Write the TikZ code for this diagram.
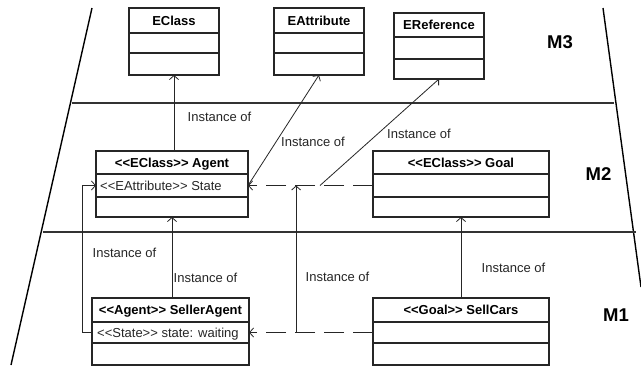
\documentclass[tikz,border=0pt]{standalone}
\usepackage{fontspec}
% plain family without TeX ligatures, so that << and >> stay as typed
\newfontfamily\umlfont{Liberation Sans}
\usetikzlibrary{arrows.meta,calc}

\tikzset{
  classbox/.style={draw=black!85, line width=1.1pt, inner sep=0pt, outer sep=0pt},
  compline/.style={draw=black!85, line width=1.1pt},
  classtitle/.style={font=\umlfont\bfseries\fontsize{13}{15}\selectfont, inner sep=0pt,
                     text height=9.3pt, text depth=0pt},
  member/.style={font=\umlfont\fontsize{13}{15}\selectfont, text=black!85, anchor=west,
                 inner sep=0pt, text height=9.3pt, text depth=0pt},
  lbl/.style={font=\umlfont\fontsize{13}{15}\selectfont, text=black!85, inner sep=0pt,
              text height=9.3pt, text depth=0pt},
  level/.style={font=\umlfont\bfseries\fontsize{18.5}{21}\selectfont, inner sep=0pt,
                text height=13.3pt, text depth=0pt},
  layer/.style={line width=1.4pt, draw=black!80},
  side/.style={line width=1.4pt, draw=black},
  inst/.style={line width=0.8pt, draw=black!85, -{Straight Barb[length=4pt,width=9pt]}},
  dep/.style={inst, dash pattern=on 20pt off 9pt},
}

% class box: name, x, y, width, header height, bottom of second compartment, total height, title
\newcommand\umlclass[8]{%
  \node[classbox, minimum width=#4pt, minimum height=#7pt, anchor=north west] (#1) at (#2,#3) {};
  \draw[compline] ($(#1.north west)+(0,#5)$) -- ($(#1.north east)+(0,#5)$);
  \draw[compline] ($(#1.north west)+(0,#6)$) -- ($(#1.north east)+(0,#6)$);
  \coordinate (#1-rw) at ($(#1.north west)+(0,{(#5+#6)/2})$);
  \coordinate (#1-re) at ($(#1.north east)+(0,{(#5+#6)/2})$);
  \node[classtitle] (#1-title) at ($(#1.north)+(0,{#5/2})$) {#8};
}

\begin{document}
\begin{tikzpicture}[x=1pt,y=-1pt]
  \useasboundingbox[fill=white] (0,0) rectangle (641,367);

  % layer borders
  \draw[side] (92,8) -- (11,365);
  \draw[side] (603,8) -- (641,287);
  \draw[layer] (72,103) -- (614,103);
  \draw[layer] (43,232) -- (636,232);

  % M3
  \umlclass{eclass}{129}{8}{90}{25}{45}{67}{EClass}
  \umlclass{eattr}{274}{8}{90}{25}{45}{67}{EAttribute}
  \umlclass{eref}{394}{13}{90}{24}{46}{66}{EReference}

  % M2
  \umlclass{agent}{96}{151}{152}{23}{46}{66}{<<EClass>> Agent}
  \umlclass{goal}{373}{151}{176}{23}{46}{66}{<<EClass>> Goal}
  \node[member] (agent-state) at ($(agent-rw)+(4,0)$) {<<EAttribute>> State};

  % M1
  \umlclass{seller}{92}{298}{157}{24}{45}{67}{<<Agent>> SellerAgent}
  \umlclass{sellcars}{373}{298}{176}{24}{45}{67}{<<Goal>> SellCars}
  \node[member] (seller-state) at ($(seller-rw)+(5,0)$) {<<State>> state: waiting};

  % instance-of connectors
  \draw[inst] (agent.north -| eclass.south) -- (eclass.south);
  \draw[inst] (agent-re) -- (eattr.south);
  \coordinate (refstart) at ($(agent-re)!0.576!(goal-rw)$);
  \draw[inst] (refstart) -- (eref.south);
  \draw[dep] (goal-rw) -- (agent-re);
  \draw[dep] (sellcars-rw) -- (seller-re);
  \coordinate (upfoot) at ($(seller-re)!0.38!(sellcars-rw)$);
  \draw[inst] (upfoot) -- (upfoot |- agent-re);
  \draw[inst] (seller.north -| agent.south) -- (agent.south);
  \draw[inst] (sellcars.north) -- (goal.south);
  \draw[inst] (seller-rw) -- ++(-10,0) |- (agent-rw);

  % labels
  \node[lbl] (l1) at (219.5,117) {Instance of};
  \node[lbl] (l2) at (313,142) {Instance of};
  \node[lbl] (l3) at (419,134) {Instance of};
  \node[lbl] (l4) at (124.5,253) {Instance of};
  \node[lbl] (l5) at (205.5,278) {Instance of};
  \node[lbl] (l6) at (337.5,277) {Instance of};
  \node[lbl] (l7) at (513.5,268) {Instance of};

  \node[level] (m3) at (560,42) {M3};
  \node[level] (m2) at (598.5,174) {M2};
  \node[level] (m1) at (616,315) {M1};
\end{tikzpicture}
\end{document}
